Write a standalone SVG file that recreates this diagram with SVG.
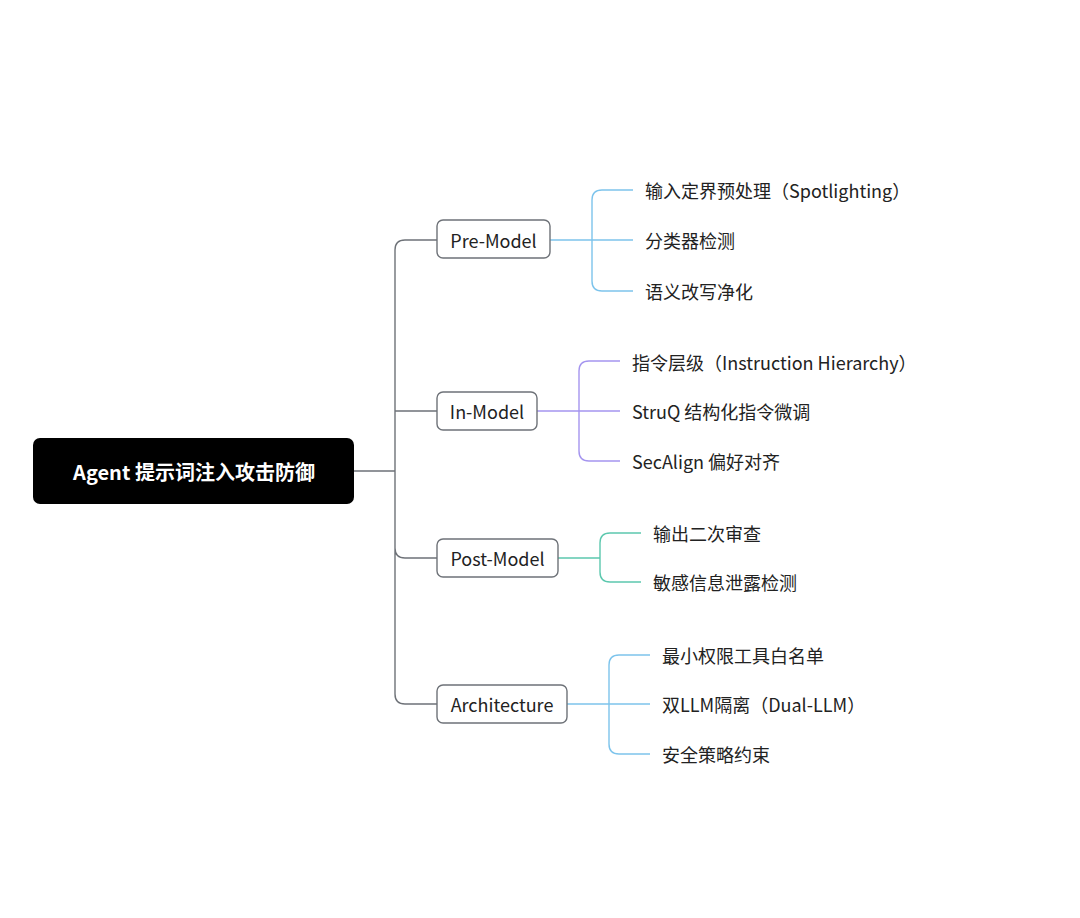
<svg xmlns="http://www.w3.org/2000/svg" width="1080" height="918" viewBox="0 0 1080 918">
<style>
text{font-family:"Noto Sans CJK SC","Noto Sans",sans-serif;font-size:18px;fill:#222;dominant-baseline:central}
.n{fill:none;stroke:#6e7278;stroke-width:1.4}
.c{text-anchor:middle}
.l{fill:none;stroke-width:1.4}
</style>
<rect width="1080" height="918" fill="#fff"/>
<g id="connectors">
<path class="l" stroke="#6e7278" d="M354 471H395M437 240H405Q395 240 395 250V694Q395 704 405 704H437M395 411Q395 411 405 411H437M395 548Q395 558 405 558H437"/>
<path class="l" stroke="#7dc4ec" d="M550 240H633M633 190H602Q592 190 592 200V281Q592 291 602 291H633"/>
<path class="l" stroke="#a595ef" d="M537 411H620M620 361H589Q579 361 579 371V451Q579 461 589 461H620"/>
<path class="l" stroke="#5cc8ae" d="M558 558H600M641 533H610Q600 533 600 543V572Q600 582 610 582H641"/>
<path class="l" stroke="#7dc4ec" d="M567 704H650M650 655H619Q609 655 609 665V744Q609 754 619 754H650"/>
</g>
<g id="root"><rect x="33" y="438" width="321" height="66" rx="7" fill="#000"/><text x="194" y="471" class="c" style="fill:#fff;font-weight:bold;font-size:20px">Agent 提示词注入攻击防御</text></g>
<g id="pre"><rect class="n" x="437" y="220" width="113" height="38" rx="6" fill="#e1f0fb"/><text x="493.5" y="240" class="c">Pre-Model</text></g>
<g id="in"><rect class="n" x="437" y="392" width="100" height="38" rx="6" fill="#e8e6f8"/><text x="487" y="411" class="c">In-Model</text></g>
<g id="post"><rect class="n" x="437" y="539" width="121" height="38" rx="6" fill="#dcf2ec"/><text x="497.5" y="558" class="c">Post-Model</text></g>
<g id="arch"><rect class="n" x="437" y="685" width="130" height="38" rx="6" fill="#e1f0fb"/><text x="502" y="704" class="c">Architecture</text></g>
<g id="pre1"><text x="645" y="190">输入定界预处理（Spotlighting）</text></g>
<g id="pre2"><text x="645" y="240">分类器检测</text></g>
<g id="pre3"><text x="645" y="291">语义改写净化</text></g>
<g id="in1"><text x="632" y="362">指令层级（Instruction Hierarchy）</text></g>
<g id="in2"><text x="632" y="411">StruQ 结构化指令微调</text></g>
<g id="in3"><text x="632" y="461">SecAlign 偏好对齐</text></g>
<g id="post1"><text x="653" y="533">输出二次审查</text></g>
<g id="post2"><text x="653" y="582">敏感信息泄露检测</text></g>
<g id="arch1"><text x="662" y="655">最小权限工具白名单</text></g>
<g id="arch2"><text x="662" y="704">双LLM隔离（Dual-LLM）</text></g>
<g id="arch3"><text x="662" y="754">安全策略约束</text></g>
</svg>
